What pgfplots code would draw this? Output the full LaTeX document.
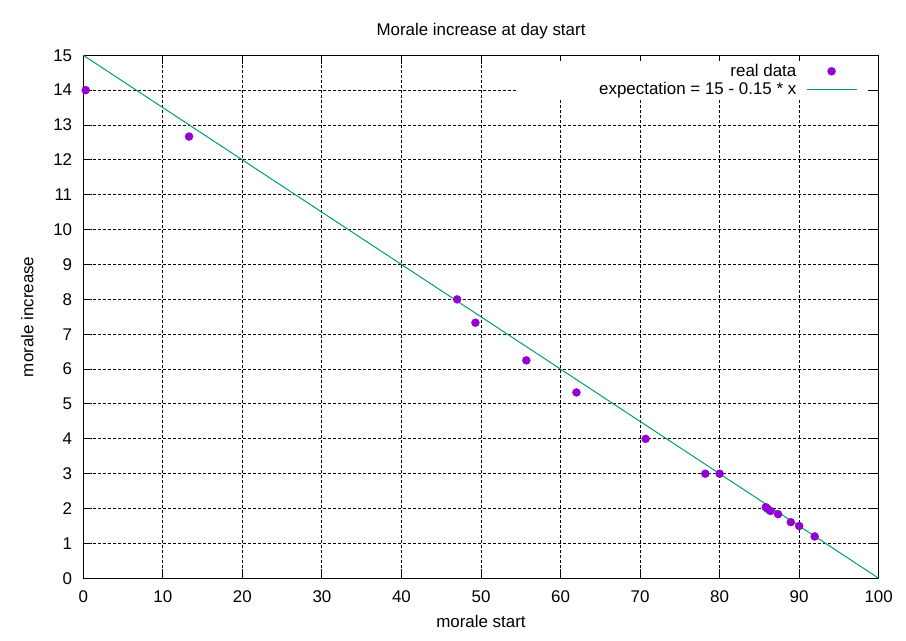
\documentclass[border=0pt]{standalone}
\usepackage{fontspec}
\setmainfont{Liberation Sans}
\usepackage{pgfplots}
\pgfplotsset{compat=1.18}
\definecolor{gpviolet}{HTML}{9400D3}
\definecolor{gpgreen}{HTML}{009E73}
\pgfplotsset{
  lineleg/.style={legend image code/.code={\draw[##1] (0bp,0bp) -- (50bp,0bp);}},
  markleg/.style={legend image code/.code={\path[draw=none] (0bp,0bp) -- (50bp,0bp); \draw[##1, only marks] plot coordinates {(25bp,0bp)};}},
}
\begin{document}
\begin{tikzpicture}
\path[use as bounding box] (-83.3bp,-62.7bp) rectangle (822.7bp,578.3bp);
\begin{axis}[
  at={(0,0)}, anchor=south west,
  scale only axis, width=795.4bp, height=523bp,
  xmin=0, xmax=100, ymin=0, ymax=15,
  xtick={0,10,...,100}, ytick={0,1,...,15},
  font=\fontsize{17}{20}\selectfont,
  /pgf/number format/assume math mode=true,
  tick align=inside, major tick length=9bp,
  tick style={black, line width=1bp},
  axis line style={black, line width=1bp},
  grid=major,
  grid style={black, line width=1bp, dash pattern=on 3bp off 2bp},
  xticklabel style={inner sep=0pt, anchor=north, yshift=-12bp},
  yticklabel style={inner sep=0pt, anchor=east, xshift=-11bp},
  title={Morale increase at day start},
  title style={at={(rel axis cs:0.5,1)}, anchor=base, yshift=14bp, inner sep=0pt},
  xlabel={morale start},
  xlabel style={at={(rel axis cs:0.5,0)}, anchor=base, yshift=-49bp, inner sep=0pt},
  ylabel={morale increase},
  ylabel style={at={(rel axis cs:0,0.5)}, anchor=base, yshift=50bp, inner sep=0pt},
  legend style={at={(rel axis cs:1,1)}, anchor=north east, xshift=-10.7bp, yshift=-5.7bp,
    draw=none, fill=white, inner xsep=10.7bp, inner ysep=3.2bp,
    font=\fontsize{17}{17}\selectfont, nodes={inner sep=0pt}, row sep=4.5bp, column sep=9.7bp},
  legend plot pos=right,
  legend cell align=right,
]
\addplot[only marks, mark=*, mark size=4bp, color=gpviolet, markleg]
  table {
x y
0.3 14
13.3 12.67
47 8
49.3 7.33
55.7 6.25
62 5.33
70.7 4
78.2 3
80 3
85.8 2.04
86.05 1.99
86.4 1.93
87.35 1.84
88.95 1.61
90 1.5
91.95 1.2
};
\addlegendentry{\makebox[268bp][r]{real data}}
\addplot[gpgreen, line width=1bp, lineleg]
  coordinates {(0,15) (100,0)};
\addlegendentry{\makebox[268bp][r]{expectation = 15 - 0.15 * x}}
\end{axis}
\end{tikzpicture}
\end{document}
